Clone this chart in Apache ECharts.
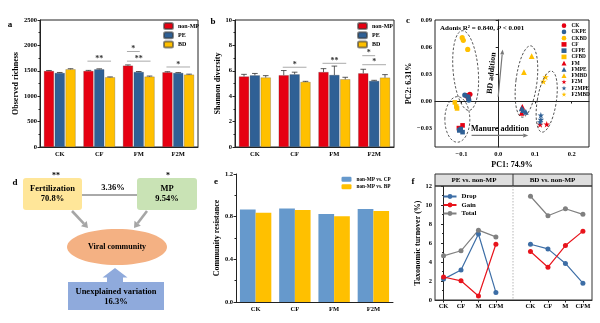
<!DOCTYPE html>
<html><head><meta charset="utf-8">
<script src="https://cdn.jsdelivr.net/npm/echarts@6/dist/echarts.min.js"></script>
<style>html,body{margin:0;padding:0;background:#fff}#c{width:600px;height:323px}</style>
</head><body><div id="c"></div>
<script>
const SERIF = "'Liberation Serif','Times New Roman',serif";
// ---------- data ----------
const catsABE = ['CK','CF','FM','F2M'];
// a: observed richness
const richNonMP = [1496,1496,1601,1470];
const richPE    = [1457,1529,1476,1457];
const richBD    = [1529,1372,1385,1424];
const richErrNonMP = [10,12,15,12];
const richErrPE    = [10,10,10,8];
const richErrBD    = [12,8,12,10];
const sigA = [[1,0,2,1690,'**'],[2,0,1,1880,'*'],[2,0,2,1690,'**'],[3,0,2,1575,'*']];
// b: shannon diversity
const shanNonMP = [5.55,5.65,5.9,5.8];
const shanPE    = [5.64,5.72,5.67,5.2];
const shanBD    = [5.47,5.12,5.33,5.46];
const shanErrNonMP = [0.17,0.37,0.27,0.32];
const shanErrPE    = [0.15,0.17,0.7,0.05];
const shanErrBD    = [0.15,0.05,0.16,0.24];
const sigB = [[1,0,2,6.28,'*'],[2,0,2,6.59,'**'],[3,0,1,7.19,'*'],[3,0,2,6.48,'*']];
// c: PCoA points
const ptsCK    = [[-0.086,0.0060],[-0.081,0.0030],[-0.077,0.0075]];
const ptsCKPE  = [[-0.091,0.0067],[-0.082,0.0048],[-0.080,0.0011]];
const ptsCKBD  = [[-0.098,0.0704],[-0.095,0.0674],[-0.083,0.0573]];
const ptsCF    = [[-0.107,-0.0300],[-0.097,-0.0270]];
const ptsCFPE  = [[-0.106,-0.0326],[-0.097,-0.0345],[-0.102,-0.0310]];
const ptsCFBD  = [[-0.118,-0.0015],[-0.112,-0.0082],[-0.114,-0.0060]];
const ptsFM    = [[0.0655,-0.0065],[0.064,-0.0130]];
const ptsFMPE  = [[0.064,-0.0082],[0.075,-0.0120],[0.068,-0.0100]];
const ptsFMBD  = [[0.091,0.0498],[0.070,0.0322]];
const ptsF2M   = [[0.132,-0.0258],[0.114,-0.0260]];
const ptsF2MPE = [[0.116,-0.0157],[0.116,-0.0206],[0.114,-0.0232]];
const ptsF2MBD = [[0.129,0.0266],[0.123,0.0217]];
const namesC = ['CK','CKPE','CKBD','CF','CFPE','CFBD','FM','FMPE','FMBD','F2M','F2MPE','F2MBD'];
const ptsC = [ptsCK,ptsCKPE,ptsCKBD,ptsCF,ptsCFPE,ptsCFBD,ptsFM,ptsFMPE,ptsFMBD,ptsF2M,ptsF2MPE,ptsF2MBD];
const ticksCx = [-0.1,0,0.1,0.2];
const ticksCy = [-0.03,0,0.03,0.06,0.09];
// ellipses: [cx, cy, rx, ry, rotationDeg] in data units
const ellC = [[-0.0886,0.0339,0.0341,0.0444,5],[-0.1112,-0.0204,0.034,0.0253,0],[0.0768,0.0217,0.0286,0.0399,-7],[0.1319,-0.0006,0.0259,0.0343,-9]];
// e: community resistance
const resCP = [0.868,0.877,0.824,0.871];
const resBP = [0.836,0.862,0.805,0.852];
// f: taxonomic turnover
const catsF = ['CK','CF','M','CFM'];
const dropPE  = [2.2,3.15,6.95,0.8];
const gainPE  = [2.42,2.02,0.42,5.87];
const totalPE = [4.65,5.18,7.35,6.64];
const dropBD  = [5.87,5.38,3.85,1.77];
const gainBD  = [5.1,3.45,5.73,7.25];
const totalBD = [10.92,8.87,9.6,9.02];

// ---------- style / layout ----------
const RED='#E60012', BLUE='#2F6095', YEL='#FFC000';
const GA={left:40,top:20,width:158,height:127}, GB={left:235,top:20,width:159,height:127},
      GC={left:435,top:20,width:154,height:127}, GE={left:236,top:174,width:157,height:128},
      GF1={left:435,top:186,width:78,height:114}, GF2={left:513,top:186,width:79,height:114};
const lab = {fontFamily:SERIF,fontWeight:'bold',fontSize:6.5,color:'#000'};
const nameTS = {fontFamily:SERIF,fontWeight:'bold',fontSize:8,color:'#000'};
const axLine = {lineStyle:{color:'#222',width:1}};
const STAR='path://M50 0 L61.8 35.5 L99 35.5 L69 57.5 L80.5 93 L50 71 L19.5 93 L31 57.5 L1 35.5 L38.2 35.5 Z';
const CAT_GAP=0.2, BAR_GAP=0.08;

function barX(api, ci, bi, nBars, catGap, barGap, v){
  const band = api.size([1,0])[0];
  const avail = band*(1-catGap);
  const bw = avail/(nBars+(nBars-1)*barGap);
  const c0 = api.coord([ci, v]);
  return [c0[0]-avail/2+bi*bw*(1+barGap)+bw/2, c0[1], bw];
}
function errRender(params, api){
  const ci=api.value(0), v=api.value(1), e=api.value(2), bi=api.value(3);
  const p = barX(api, ci, bi, 3, CAT_GAP, BAR_GAP, v);
  const yT = api.coord([ci, v+e])[1];
  const cap = p[2]*0.28;
  return {type:'group',children:[
    {type:'line',shape:{x1:p[0],y1:p[1],x2:p[0],y2:yT},style:{stroke:'#333',lineWidth:0.8}},
    {type:'line',shape:{x1:p[0]-cap,y1:yT,x2:p[0]+cap,y2:yT},style:{stroke:'#333',lineWidth:0.8}}
  ]};
}
function sigRender(arr){
  return function(params, api){
    const s = arr[params.dataIndex];
    const a = barX(api, s[0], s[1], 3, CAT_GAP, BAR_GAP, s[3]);
    const b = barX(api, s[0], s[2], 3, CAT_GAP, BAR_GAP, s[3]);
    return {type:'group',children:[
      {type:'line',shape:{x1:a[0]-1,y1:a[1],x2:b[0]+1,y2:a[1]},style:{stroke:'#aaa',lineWidth:1}},
      {type:'text',style:{text:s[4],x:(a[0]+b[0])/2,y:a[1]+1.5,align:'center',textAlign:'center',verticalAlign:'bottom',textVerticalAlign:'bottom',font:'bold 8px '+SERIF,fill:'#333'}}
    ]};
  };
}
function errData(vals, errs){ const out=[]; vals.forEach((v,bi)=>v.forEach((x,ci)=>out.push([ci,x,errs[bi][ci],bi]))); return out; }
function barSeries(name,data,color,gi){
  return {type:'bar',name,data,xAxisIndex:gi,yAxisIndex:gi,barGap:(BAR_GAP*100)+'%',barCategoryGap:(CAT_GAP*100)+'%',
    itemStyle:{color,borderColor:'rgba(60,60,60,0.6)',borderWidth:0.4}};
}
function catX(gi){ return {type:'category',gridIndex:gi,data:catsABE,axisLine:axLine,axisTick:{length:2,lineStyle:{color:'#222'}},axisLabel:Object.assign({margin:4,fontSize:7.5},lab)}; }
function valY(gi,min,max,interval,name,gap,fmt){
  return {type:'value',gridIndex:gi,min,max,interval,name,nameLocation:'middle',nameGap:gap,nameTextStyle:nameTS,
    axisLine:Object.assign({show:true},axLine),axisTick:{show:true,length:2.5,lineStyle:{color:'#222'}},
    minorTick:{show:true,splitNumber:2,length:1.5,lineStyle:{color:'#222'}},
    splitLine:{show:false},axisLabel:Object.assign({margin:3,formatter:fmt||(v=>String(v))},lab)};
}
const legText = (fs)=>({fontFamily:SERIF,fontWeight:'bold',fontSize:fs,color:'#000',lineHeight:fs});
const symC = ['circle','circle','circle','rect','rect','rect','triangle','triangle','triangle',STAR,STAR,STAR];
const colC = [RED,BLUE,YEL,RED,BLUE,YEL,RED,BLUE,YEL,RED,BLUE,YEL];
const sizeC = {circle:5.2,rect:4.6,triangle:5.8};
const minus = (s)=>s.replace('-','\u2212');

const chart = echarts.init(document.getElementById('c'),null,{renderer:'canvas'});
const fLine = (name,data,color,gi)=>({type:'line',name,xAxisIndex:gi,yAxisIndex:gi,data:data.map((v,i)=>[i,v]),
  symbol:'circle',symbolSize:5,lineStyle:{color,width:1.2},itemStyle:{color}});

const option = {
  animation:false,
  grid:[Object.assign({show:true,borderColor:'#222',borderWidth:1},GA),Object.assign({show:true,borderColor:'#222',borderWidth:1},GB),
        Object.assign({show:true,borderColor:'#222',borderWidth:1},GC),GE,GF1,GF2],
  legend:[
    {data:['non-MP','PE','BD'],orient:'vertical',left:163,top:22,padding:0,itemWidth:9,itemHeight:6,itemGap:1.3,textStyle:legText(6)},
    {data:['non-MP','PE','BD'],orient:'vertical',left:357,top:22,padding:0,itemWidth:9,itemHeight:6,itemGap:1.3,textStyle:legText(6)},
    {data:namesC,orient:'vertical',left:561.5,top:23,padding:0,itemWidth:5,itemHeight:4.6,itemGap:0.95,textStyle:legText(5.3)},
    {data:['non-MP vs. CP','non-MP vs. BP'],orient:'vertical',left:341.5,top:176.5,padding:0,itemWidth:10,itemHeight:5,itemGap:2.4,textStyle:legText(5.3)},
    {data:['Drop','Gain','Total'],orient:'vertical',left:442.5,top:193,padding:0,itemWidth:13,itemHeight:6,itemGap:1.5,textStyle:legText(6.8)}
  ],
  xAxis:[
    catX(0),catX(1),
    {type:'value',gridIndex:2,min:-0.172,max:0.247,name:'PC1: 74.9%',nameLocation:'middle',nameGap:14,nameTextStyle:nameTS,
      axisLine:axLine,axisTick:{show:true,length:2.5,customValues:ticksCx},splitLine:{show:false},
      axisLabel:Object.assign({margin:4,customValues:ticksCx,formatter:v=>minus(v.toFixed(1))},lab)},
    catX(3),
    {type:'value',gridIndex:4,min:-0.49,max:3.98,axisLine:axLine,axisTick:{show:true,length:2.5,customValues:[0,1,2,3]},splitLine:{show:false},
      axisLabel:Object.assign({margin:3,fontSize:7.5,customValues:[0,1,2,3],formatter:v=>catsF[Math.round(v)]},lab)},
    {type:'value',gridIndex:5,min:-1.0,max:3.52,axisLine:axLine,axisTick:{show:true,length:2.5,customValues:[0,1,2,3]},splitLine:{show:false},
      axisLabel:Object.assign({margin:3,fontSize:7.5,customValues:[0,1,2,3],formatter:v=>catsF[Math.round(v)]},lab)}
  ],
  yAxis:[
    valY(0,0,2500,500,'Observed richness',15),
    valY(1,0,10,2,'Shannon diversity',12),
    Object.assign(valY(2,-0.051,0.09,null,'PC2: 6.31%',20),{interval:undefined,
      axisTick:{show:true,length:2.5,customValues:ticksCy,lineStyle:{color:'#222'}},minorTick:{show:false},
      axisLabel:Object.assign({margin:3,customValues:ticksCy,formatter:v=>minus(v.toFixed(2))},lab)}),
    valY(3,0,1.2,0.4,'Community resistance',15,v=>v.toFixed(1)),
    valY(4,0,12,2,'Taxonomic turnover (%)',12),
    {type:'value',gridIndex:5,min:0,max:12,interval:2,show:false}
  ],
  series:[
    barSeries('non-MP',richNonMP,RED,0),barSeries('PE',richPE,BLUE,0),barSeries('BD',richBD,YEL,0),
    {type:'custom',xAxisIndex:0,yAxisIndex:0,renderItem:errRender,encode:{x:0,y:1},z:5,
      data:errData([richNonMP,richPE,richBD],[richErrNonMP,richErrPE,richErrBD])},
    {type:'custom',xAxisIndex:0,yAxisIndex:0,renderItem:sigRender(sigA),encode:{x:0,y:1},z:5,data:sigA.map(s=>[s[0],s[3]])},
    barSeries('non-MP',shanNonMP,RED,1),barSeries('PE',shanPE,BLUE,1),barSeries('BD',shanBD,YEL,1),
    {type:'custom',xAxisIndex:1,yAxisIndex:1,renderItem:errRender,encode:{x:0,y:1},z:5,
      data:errData([shanNonMP,shanPE,shanBD],[shanErrNonMP,shanErrPE,shanErrBD])},
    {type:'custom',xAxisIndex:1,yAxisIndex:1,renderItem:sigRender(sigB),encode:{x:0,y:1},z:5,data:sigB.map(s=>[s[0],s[3]])},
  ].concat(namesC.map((n,i)=>({type:'scatter',name:n,xAxisIndex:2,yAxisIndex:2,data:ptsC[i],symbol:symC[i],
      symbolSize:sizeC[symC[i]]||6.5,itemStyle:{color:colC[i],opacity:1}})))
  .concat([
    {type:'bar',name:'non-MP vs. CP',xAxisIndex:3,yAxisIndex:3,data:resCP,barGap:'0%',barCategoryGap:'20%',itemStyle:{color:'#6699CC'}},
    {type:'bar',name:'non-MP vs. BP',xAxisIndex:3,yAxisIndex:3,data:resBP,barGap:'0%',barCategoryGap:'20%',itemStyle:{color:YEL}},
    fLine('Drop',dropPE,'#3D6EA6',4),fLine('Gain',gainPE,'#E8141C',4),fLine('Total',totalPE,'#808080',4),
    fLine('Drop',dropBD,'#3D6EA6',5),fLine('Gain',gainBD,'#E8141C',5),fLine('Total',totalBD,'#808080',5)
  ])
};
chart.setOption(option);

// ---------- annotations ----------
function T(text,x,y,size,opts){
  opts=opts||{};
  return {type:'text',x:x,y:y,rotation:opts.rot||0,z:50,style:{text,x:0,y:0,font:'bold '+size+'px '+SERIF,fill:opts.fill||'#000',
    align:opts.align||'center',textAlign:opts.align||'center',verticalAlign:'middle',textVerticalAlign:'middle',
    lineHeight:opts.lh||size,rich:opts.rich}};
}
function arrowEls(p0,p1,color,w,hl,hw){
  const dx=p1[0]-p0[0],dy=p1[1]-p0[1],L=Math.hypot(dx,dy),ux=dx/L,uy=dy/L;
  const bx=p1[0]-ux*hl,by=p1[1]-uy*hl,px=-uy,py=ux;
  return [{type:'line',z:40,shape:{x1:p0[0],y1:p0[1],x2:bx,y2:by},style:{stroke:color,lineWidth:w}},
          {type:'polygon',z:40,shape:{points:[[p1[0],p1[1]],[bx+px*hw/2,by+py*hw/2],[bx-px*hw/2,by-py*hw/2]]},style:{fill:color}}];
}
const g=[];
// panel letters
g.push(T('a',10,25,9),T('b',213,22,9),T('c',408,21,9),T('d',15,183,9),T('e',216,182,9),T('f',413,182,9));
// panel c extras
const toC=p=>chart.convertToPixel({gridIndex:2},p);
ellC.forEach(e=>{
  const c=toC([e[0],e[1]]), rx=Math.abs(toC([e[0]+e[2],e[1]])[0]-c[0]), ry=Math.abs(toC([e[0],e[1]+e[3]])[1]-c[1]);
  g.push({type:'ellipse',x:c[0],y:c[1],rotation:e[4]*Math.PI/180,z:30,shape:{cx:0,cy:0,rx,ry},
    style:{fill:'none',stroke:'#333',lineWidth:0.8,lineDash:[2.5,1.8]}});
});
const mA=toC([-0.0725,-0.0382]), mB=toC([0.0817,-0.0382]);
g.push(...arrowEls(mA,mB,'#777',1.2,5,4));
g.push(T('Manure addition',(mA[0]+mB[0])/2,mA[1]-7,8));
const bA=toC([0.0,0.0048]), bB=toC([0.012,0.0573]);
g.push(...arrowEls(bA,bB,'#777',1.2,5,4));
const ang=Math.atan2(bA[1]-bB[1],bB[0]-bA[0]);
const bT=toC([-0.018,0.031]);
g.push(T('BD addition',bT[0],bT[1],8,{rot:ang}));
g.push({type:'text',x:440,y:28,z:50,style:{text:'{n|Adonis R² = 0.840, }{i|P}{n| < 0.001}',x:0,y:0,align:'left',textAlign:'left',verticalAlign:'middle',textVerticalAlign:'middle',
  rich:{n:{font:'bold 7px '+SERIF,fill:'#000'},i:{font:'italic bold 7px '+SERIF,fill:'#000'}}}});
// panel f header and frame
const fL=GF1.left, fR=GF2.left+GF2.width, fT=GF1.top, fB=GF1.top+GF1.height, fMid=GF2.left;
g.push({type:'rect',z:20,shape:{x:fL,y:fT-12,width:fR-fL,height:12},style:{fill:'#DEDEDE',stroke:'#333',lineWidth:1}});
g.push({type:'line',z:21,shape:{x1:fMid,y1:fT-12,x2:fMid,y2:fT},style:{stroke:'#333',lineWidth:1}});
g.push({type:'rect',z:20,shape:{x:fL,y:fT,width:fR-fL,height:GF1.height},style:{fill:'none',stroke:'#333',lineWidth:1}});
g.push({type:'line',z:20,shape:{x1:fMid,y1:fT,x2:fMid,y2:fB},style:{stroke:'#999',lineWidth:0.7,lineDash:[1.5,1.5]}});
g.push(T('PE vs. non-MP',(fL+fMid)/2,fT-6,7),T('BD vs. non-MP',(fMid+fR)/2,fT-6,7));
// panel d diagram
const dTexts = {fert:'Fertilization\n70.8%', mp:'MP\n9.54%', shared:'3.36%', viral:'Viral community', unexp:'Unexplained variation\n16.3%', sigF:'**', sigM:'*'};
g.push({type:'rect',z:10,shape:{x:23,y:178,width:59,height:32,r:3},style:{fill:'#FFE699'}});
g.push({type:'rect',z:10,shape:{x:137,y:178,width:60,height:32,r:3},style:{fill:'#C9E3B5'}});
g.push({type:'line',z:10,shape:{x1:82,y1:195,x2:137,y2:195},style:{stroke:'#555',lineWidth:1}});
g.push(T(dTexts.fert,52.5,194,8.5,{lh:10}),T(dTexts.mp,167,194,8.5,{lh:10}),T(dTexts.shared,113,188,8.5));
g.push(T(dTexts.sigF,56,176,8),T(dTexts.sigM,168,176,8));
g.push(...arrowEls([72,211],[88,228],'#A6A6A6',2.6,6,8));
g.push(...arrowEls([147,211],[134,228],'#A6A6A6',2.6,6,8));
g.push({type:'ellipse',z:10,shape:{cx:117,cy:247,rx:50,ry:18},style:{fill:'#F4B183'}});
g.push(T(dTexts.viral,117,247,8));
g.push({type:'polygon',z:10,shape:{points:[[115,268],[127.5,277.5],[123,277.5],[123,282],[107,282],[107,277.5],[102.5,277.5]]},style:{fill:'#8FAADC'}});
g.push({type:'rect',z:10,shape:{x:68,y:282,width:96,height:28},style:{fill:'#8FAADC'}});
g.push(T(dTexts.unexp,116,296.5,8.5,{lh:10}));
chart.setOption({graphic:{elements:g}});
</script></body></html>
